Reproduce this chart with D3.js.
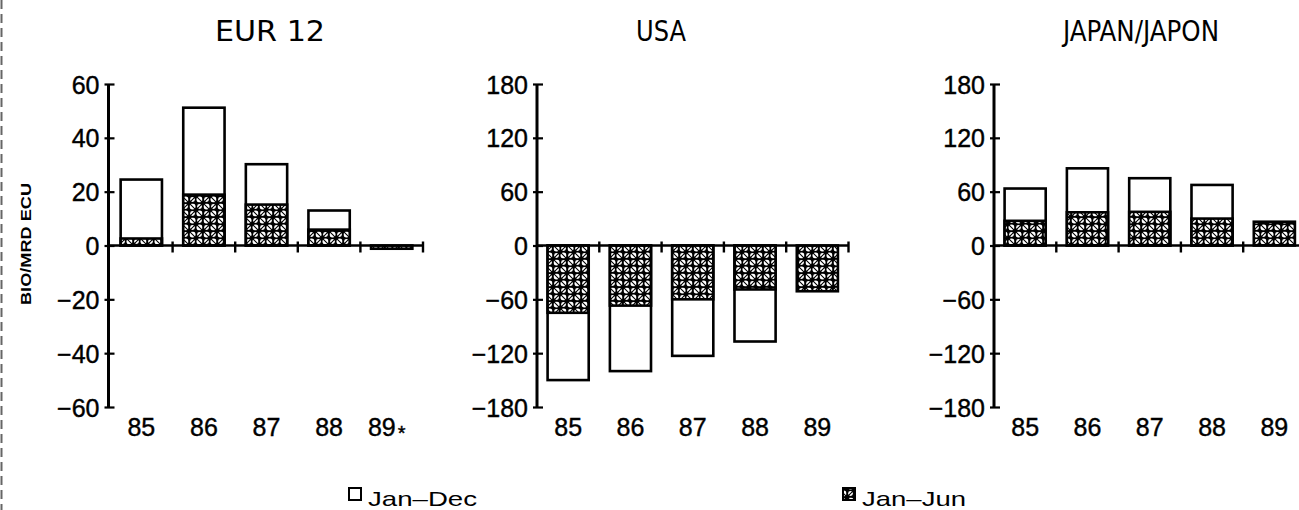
<!DOCTYPE html>
<html><head><meta charset="utf-8">
<script src="https://cdn.jsdelivr.net/npm/d3@7"></script>
<style>
html,body{margin:0;padding:0;background:#fff;}
svg{display:block;}
</style></head>
<body>
<svg id="chart" width="1299" height="510"></svg>
<script>
// ---- data ----
const years = ["85","86","87","88","89"];
const panelTitles = ["EUR 12","USA","JAPAN/JAPON"];
const eurJanDec = [24.5, 51.2, 30.2, 13.0, null];
const eurJanJun = [2.6, 18.9, 15.2, 5.9, -1.2];
const usaJanDec = [-150, -140, -123, -107, null];
const usaJanJun = [-75, -67, -60, -49, -51];
const jpnJanDec = [63.5, 86, 75, 67.5, null];
const jpnJanJun = [27.5, 37, 37.5, 30, 26.5];
const eurTicks = [60, 40, 20, 0, -20, -40, -60];
const bigTicks = [180, 120, 60, 0, -60, -120, -180];
const legendLabels = ["Jan\u2013Dec", "Jan\u2013Jun"];
const yLabel = "BIO/MRD ECU";

const svg = d3.select("#chart");
const defs = svg.append("defs");
const P = 14;
const pat = defs.append("pattern").attr("id","lattice")
  .attr("patternUnits","userSpaceOnUse").attr("width",P).attr("height",P);
pat.append("rect").attr("width",P).attr("height",P).attr("fill","#000");
[[3.5,3.5,3.0],[10.5,10.5,3.0],[10.5,3.5,2.4],[3.5,10.5,2.4]].forEach(c=>{
  pat.append("circle").attr("cx",c[0]).attr("cy",c[1]).attr("r",c[2]).attr("fill","#fff");
});
pat.append("path").attr("d",`M0,0L${P},${P}M${P},0L0,${P}M0,${P/2}L${P},${P/2}M${P/2},0L${P/2},${P}`)
  .attr("stroke","#000").attr("stroke-width",1.1);

// left dashed scan border
svg.append("line").attr("x1",1.5).attr("x2",1.5).attr("y1",0).attr("y2",510)
  .attr("stroke","#666").attr("stroke-width",2).attr("stroke-dasharray","9,5");

const panels = [
  {title: panelTitles[0], dec: eurJanDec, jun: eurJanJun, ticks: eurTicks, dom:[-60,60], ax:108.5, b0:110, b1:423, tx:270},
  {title: panelTitles[1], dec: usaJanDec, jun: usaJanJun, ticks: bigTicks, dom:[-180,180], ax:537, b0:537, b1:848.5, tx:661},
  {title: panelTitles[2], dec: jpnJanDec, jun: jpnJanJun, ticks: bigTicks, dom:[-180,180], ax:994, b0:994, b1:1305.5, tx:1141}
];
const titleW = [110, 50, 156];

const numFont = "'Liberation Sans', Arial, sans-serif";
const fmt = v => v < 0 ? "\u2212" + Math.abs(v) : String(v);

panels.forEach((p, pi) => {
  const g = svg.append("g");
  const y = d3.scaleLinear().domain(p.dom).range([407, 84]);
  const x = d3.scaleBand().domain(years).range([p.b0, p.b1]).paddingInner(0.34).paddingOuter(0.17);
  const xb = d3.scaleBand().domain(years).range([p.b0, p.b1]);

  // title
  g.append("text").attr("x", p.tx).attr("y", 41).attr("text-anchor","middle")
    .attr("font-family","'Liberation Sans Narrow','DejaVu Sans Condensed','Liberation Sans',sans-serif")
    .attr("font-size", 29).attr("textLength", titleW[pi]).attr("lengthAdjust","spacingAndGlyphs")
    .text(p.title);

  // bars Jan-Dec
  g.selectAll("rect.dec").data(years.map((k,i)=>({k, v:p.dec[i]})).filter(d=>d.v!=null))
    .join("rect").attr("class","dec")
    .attr("x", d=>x(d.k)).attr("width", x.bandwidth())
    .attr("y", d=>y(Math.max(0,d.v))).attr("height", d=>Math.abs(y(d.v)-y(0)))
    .attr("fill","#fff").attr("stroke","#000").attr("stroke-width",2.6);
  // bars Jan-Jun
  g.selectAll("rect.jun").data(years.map((k,i)=>({k, v:p.jun[i]})).filter(d=>d.v!=null))
    .join("rect").attr("class","jun")
    .attr("x", d=>x(d.k)).attr("width", x.bandwidth())
    .attr("y", d=>y(Math.max(0,d.v))).attr("height", d=>Math.abs(y(d.v)-y(0)))
    .attr("fill","url(#lattice)").attr("stroke","#000").attr("stroke-width",2.6);

  // y axis
  const ya = d3.axisLeft(y).tickValues(p.ticks).tickFormat(fmt).tickSize(0).tickPadding(9);
  const yg = g.append("g").attr("transform",`translate(${p.ax},0)`).call(ya);
  yg.select(".domain").remove();
  yg.append("line").attr("x1",0).attr("x2",0).attr("y1",y(p.dom[1])).attr("y2",y(p.dom[0]))
    .attr("stroke","#000").attr("stroke-width",3);
  yg.selectAll(".tick").append("line").attr("x1",-4).attr("x2",6).attr("y1",0).attr("y2",0)
    .attr("stroke","#000").attr("stroke-width",2.2);
  yg.selectAll(".tick text").attr("font-family",numFont).attr("font-size",25)
    .attr("fill","#000").attr("stroke","#000").attr("stroke-width",0.4).attr("dy","0.36em");

  // zero line with ticks between categories
  g.append("line").attr("x1",p.ax).attr("x2",p.b1).attr("y1",y(0)).attr("y2",y(0))
    .attr("stroke","#000").attr("stroke-width",2.6);
  g.selectAll("line.xt").data(years).join("line").attr("class","xt")
    .attr("x1", d=>xb(d)+xb.bandwidth()).attr("x2", d=>xb(d)+xb.bandwidth())
    .attr("y1", y(0)-4).attr("y2", y(0)+7).attr("stroke","#000").attr("stroke-width",2.4);

  // category labels
  const lab = g.selectAll("text.cat").data(years).join("text").attr("class","cat")
    .attr("x", d=>xb(d)+xb.bandwidth()/2 - (pi===0 && d==="89" ? 5 : 0))
    .attr("y", 436).attr("text-anchor","middle")
    .attr("font-family",numFont).attr("font-size",25)
    .attr("stroke","#000").attr("stroke-width",0.4).text(d=>d);
  if (pi===0) {
    lab.filter(d=>d==="89").append("tspan").attr("font-size",20).attr("dx",2).attr("dy",4).text("*");
  }
});

// y axis title
svg.append("text").attr("transform","translate(31,244) rotate(-90)")
  .attr("text-anchor","middle").attr("font-family","'Liberation Sans',Arial,sans-serif")
  .attr("font-weight","bold").attr("font-size",15).attr("textLength",122)
  .attr("lengthAdjust","spacingAndGlyphs").text(yLabel);

// legend
const lg = svg.append("g");
lg.append("rect").attr("x",349).attr("y",488).attr("width",12).attr("height",12)
  .attr("fill","#fff").attr("stroke","#000").attr("stroke-width",2);
lg.append("text").attr("x",368).attr("y",506).attr("font-family","'Liberation Sans',Arial,sans-serif")
  .attr("font-size",21).attr("textLength",109).attr("lengthAdjust","spacingAndGlyphs").text(legendLabels[0]);
lg.append("rect").attr("x",843).attr("y",488).attr("width",12).attr("height",12)
  .attr("fill","url(#lattice)").attr("stroke","#000").attr("stroke-width",2);
lg.append("text").attr("x",862).attr("y",506).attr("font-family","'Liberation Sans',Arial,sans-serif")
  .attr("font-size",21).attr("textLength",104).attr("lengthAdjust","spacingAndGlyphs").text(legendLabels[1]);
</script>
</body></html>
